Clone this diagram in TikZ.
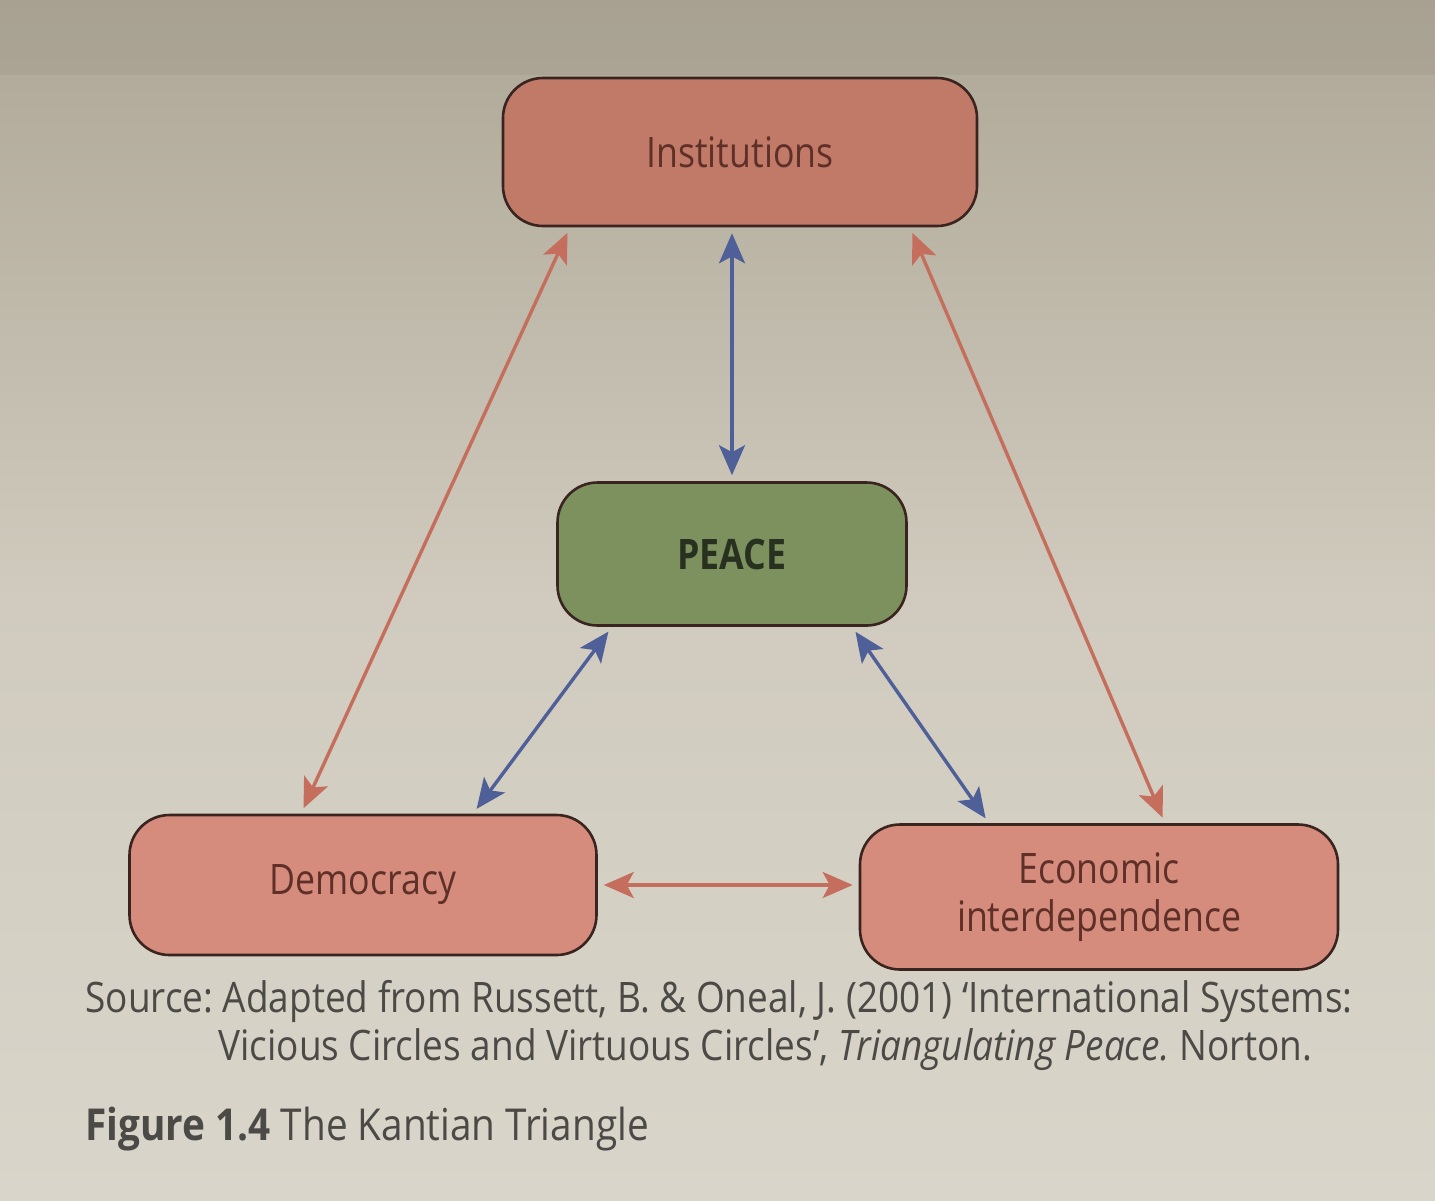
\documentclass[tikz,border=0pt]{standalone}
\usepackage{fontspec}
\setmainfont[FakeStretch=0.85]{Open Sans}
\newfontfamily\capfont[FakeStretch=0.88]{Open Sans}
\usetikzlibrary{arrows.meta,calc}
\definecolor{bgtop}{HTML}{AEA797}
\definecolor{bgmid}{HTML}{D0CBBE}
\definecolor{bgbot}{HTML}{D9D5CA}
\definecolor{instfill}{HTML}{C27A68}
\definecolor{pinkfill}{HTML}{D68C7D}
\definecolor{peacefill}{HTML}{7D915F}
\definecolor{boxline}{HTML}{3A2420}
\definecolor{pinktext}{HTML}{5E3028}
\definecolor{peacetext}{HTML}{283020}
\definecolor{redarrow}{HTML}{C66E5D}
\definecolor{bluearrow}{HTML}{4F5F98}
\definecolor{captext}{HTML}{4C4A47}
\tikzset{
  kbox/.style={draw=boxline, line width=1.3pt, rounded corners=20pt, align=center, inner sep=0pt},
  linkred/.style={draw=redarrow, line width=1.7pt, {Stealth[length=15pt,width=13pt,inset=3.5pt]}-{Stealth[length=15pt,width=13pt,inset=3.5pt]}, shorten <=3pt, shorten >=3pt},
  linkblue/.style={linkred, draw=bluearrow},
  captxt/.style={text=captext, font=\capfont\fontsize{21}{24}\selectfont\frenchspacing, anchor=base west, inner sep=0pt}
}
\begin{document}
\begin{tikzpicture}[x=0.5pt,y=-0.5pt]
\useasboundingbox (0,0) rectangle (1435,1200);
\shade[top color=bgtop, bottom color=bgbot, middle color=bgmid] (0,0) rectangle (1435,1200);
\fill[bgtop!85!black, opacity=0.22] (0,0) rectangle (1435,75);

\node[kbox, fill=instfill, minimum width=237pt, minimum height=74pt, text=pinktext,
      font=\fontsize{21}{24}\selectfont] (inst) at (740,152) {Institutions};
\node[kbox, fill=peacefill, minimum width=174.5pt, minimum height=71.5pt, text=peacetext,
      font=\fontsize{21}{24}\bfseries\selectfont] (peace) at (732,554) {PEACE};
\node[kbox, fill=pinkfill, minimum width=233.5pt, minimum height=70pt, text=pinktext,
      font=\fontsize{21}{24}\selectfont] (dem) at (363,885) {Democracy};
\node[kbox, fill=pinkfill, minimum width=239pt, minimum height=72.5pt, text=pinktext,
      font=\fontsize{21}{24}\selectfont] (econ) at (1099,897) {Economic\\interdependence};

\draw[linkred] ([xshift=-85pt]inst.south) -- ([xshift=-31pt]dem.north);
\draw[linkred] ([xshift=85pt]inst.south) -- ([xshift=33pt]econ.north);
\draw[linkred] (dem.east) -- (dem.east -| econ.west);
\draw[linkblue] (inst.south -| peace.north) -- (peace.north);
\draw[linkblue] ([xshift=-60pt]peace.south) -- ([xshift=55pt]dem.north);
\draw[linkblue] ([xshift=60pt]peace.south) -- ([xshift=-55pt]econ.north);

\node[captxt] (src1) at (85,1012) {Source: Adapted from Russett, B. \& Oneal, J. (2001) ‘International Systems:};
\node[captxt] (src2) at (218,1060) {Vicious Circles and Virtuous Circles’, {\itshape Triangulating Peace.} Norton.};
\node[captxt, font=\capfont\fontsize{22}{24}\selectfont] (fig) at (85,1140) {{\bfseries Figure 1.4} The Kantian Triangle};
\end{tikzpicture}
\end{document}
